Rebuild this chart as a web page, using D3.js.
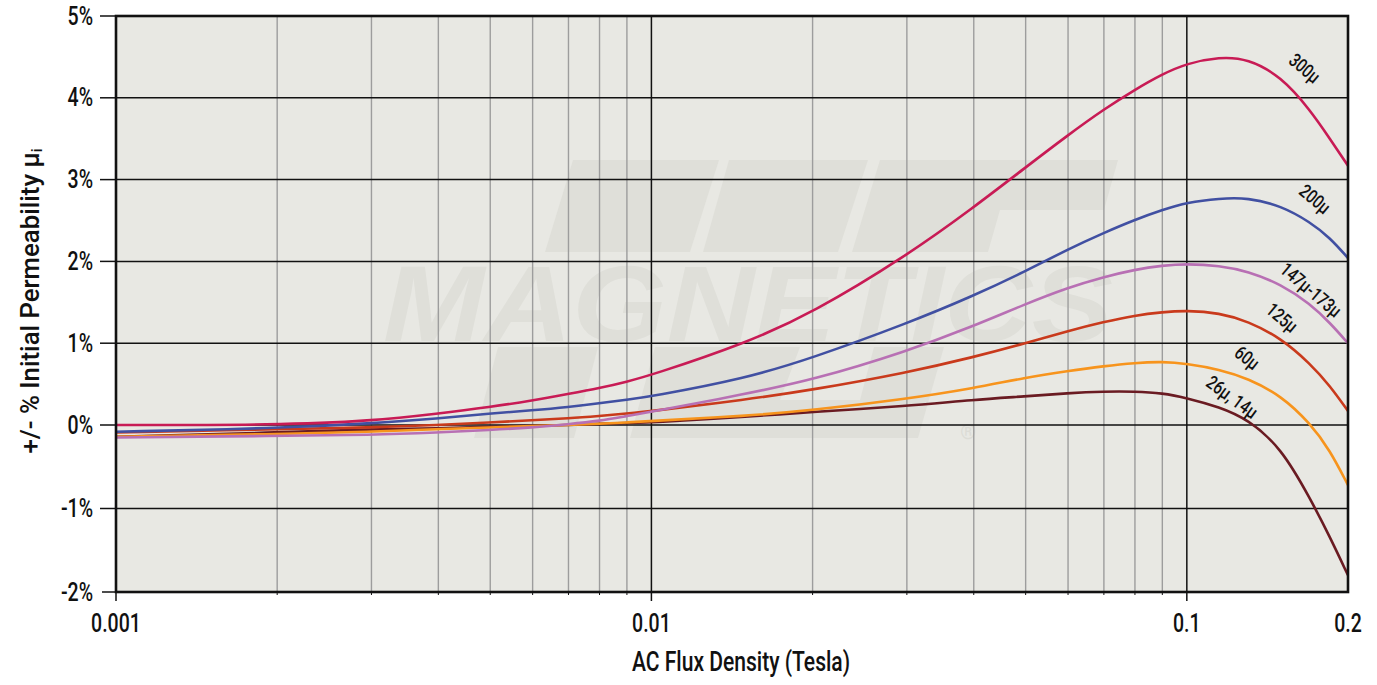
<!DOCTYPE html>
<html>
<head>
<meta charset="utf-8">
<script src="https://cdn.jsdelivr.net/npm/d3@7"></script>
<style>
  html, body { margin: 0; padding: 0; background: #ffffff; }
  svg { display: block; }
  text { font-family: Roboto, 'DejaVu Sans Condensed', sans-serif; font-weight: 500; fill: #111; }
</style>
</head>
<body>
<svg id="chart" width="1377" height="685"></svg>
<script>
// ---------------- DATA ----------------
const fluxDensity = [0.001, 0.002, 0.003, 0.004, 0.005, 0.006, 0.007, 0.008, 0.009, 0.01, 0.015, 0.02, 0.03, 0.04, 0.05, 0.06, 0.07, 0.08, 0.09, 0.1, 0.115, 0.13, 0.15, 0.17, 0.185, 0.2];

const perm300     = [0.00, 0.00, 0.05, 0.14, 0.22, 0.30, 0.38, 0.45, 0.53, 0.61, 1.00, 1.37, 2.07, 2.66, 3.15, 3.545, 3.86, 4.10, 4.29, 4.42, 4.50, 4.48, 4.26, 3.85, 3.50, 3.17];
const perm200     = [-0.08, -0.04, 0.02, 0.08, 0.14, 0.18, 0.22, 0.265, 0.31, 0.35, 0.57, 0.82, 1.24, 1.58, 1.88, 2.15, 2.35, 2.51, 2.63, 2.72, 2.77, 2.78, 2.68, 2.48, 2.29, 2.04];
const perm147_173 = [-0.15, -0.13, -0.12, -0.09, -0.06, -0.03, 0.01, 0.05, 0.11, 0.16, 0.38, 0.55, 0.90, 1.21, 1.48, 1.68, 1.81, 1.90, 1.95, 1.97, 1.95, 1.88, 1.72, 1.48, 1.25, 1.00];
const perm125     = [-0.09, -0.05, -0.03, 0.00, 0.03, 0.06, 0.08, 0.11, 0.14, 0.17, 0.31, 0.43, 0.64, 0.83, 1.00, 1.15, 1.26, 1.34, 1.38, 1.40, 1.37, 1.27, 1.06, 0.75, 0.48, 0.17];
const perm60      = [-0.14, -0.11, -0.08, -0.05, -0.03, -0.01, 0.00, 0.015, 0.03, 0.05, 0.11, 0.18, 0.32, 0.45, 0.58, 0.66, 0.72, 0.76, 0.775, 0.75, 0.68, 0.57, 0.36, 0.02, -0.30, -0.72];
const perm26_14   = [-0.14, -0.09, -0.05, -0.04, -0.02, -0.01, 0.00, 0.015, 0.025, 0.03, 0.10, 0.16, 0.23, 0.31, 0.35, 0.39, 0.41, 0.41, 0.39, 0.33, 0.22, 0.07, -0.27, -0.88, -1.34, -1.80];

const seriesNames = ["300μ", "200μ", "147μ-173μ", "125μ", "60μ", "26μ, 14μ"];
const seriesValues = [perm300, perm200, perm147_173, perm125, perm60, perm26_14];
const seriesColors = ["#c81b55", "#4150a2", "#b870b4", "#c93a1c", "#f7941d", "#6a1b22"];
// label anchor positions (data units) and rotation
const labelX = [0.166, 0.1735, 0.1705, 0.1506, 0.1296, 0.1215];
const labelY = [4.36, 2.76, 1.65, 1.31, 0.82, 0.34];
const labelAngle = [40, 40, 40, 40, 38, 36];

const xTickValues = [0.001, 0.01, 0.1, 0.2];
const xTickLabels = ["0.001", "0.01", "0.1", "0.2"];
const xMinor = [0.002,0.003,0.004,0.005,0.006,0.007,0.008,0.009,0.02,0.03,0.04,0.05,0.06,0.07,0.08,0.09];
const xMajor = [0.01, 0.1];
const yTickValues = [-2, -1, 0, 1, 2, 3, 4, 5];
const yTickLabels = ["-2%", "-1%", "0%", "1%", "2%", "3%", "4%", "5%"];

// ---------------- CHART ----------------
const svg = d3.select("#chart");
const L = 116, R = 1348, T = 16, B = 592;
const x = d3.scaleLog().domain([0.001, 0.2]).range([L, R]);
const y = d3.scaleLinear().domain([-2, 0, 5]).range([B, 425, T]);
const CONDENSE = 0.78;
function condense(sel, k) {
  sel.each(function () {
    const w = this.getComputedTextLength();
    d3.select(this).attr("textLength", w * (k || CONDENSE)).attr("lengthAdjust", "spacingAndGlyphs");
  });
}

// plot background
svg.append("rect").attr("x", L).attr("y", T).attr("width", R - L).attr("height", B - T).attr("fill", "#e8e8e3");

// watermark
const wm = svg.append("g").attr("fill", "#dfdfd9");
const wmPolys = [
  [[573,160],[719,160],[690,252],[545,252]],
  [[729,160],[868,160],[838,252],[703,252]],
  [[880,160],[1118,160],[1104,210],[1000,210],[988,252],[852,252]],
  [[498,347],[598,347],[574,438],[474,438]],
  [[655,347],[800,347],[780,400],[860,400],[874,347],[944,347],[918,438],[630,438]]
];
wmPolys.forEach(p => wm.append("path").attr("d", "M" + p.map(d => d.join(",")).join("L") + "Z"));
svg.append("text").attr("x", 748).attr("y", 341).attr("text-anchor", "middle")
  .attr("font-size", 108).attr("font-style", "italic")
  .attr("textLength", 730).attr("lengthAdjust", "spacingAndGlyphs")
  .style("fill", "#dfdfd9").style("font-family", "'Liberation Sans', Arial, sans-serif").style("font-weight", "bold")
  .text("MAGNETICS");
svg.append("text").attr("x", 968).attr("y", 432).attr("text-anchor", "middle").attr("dominant-baseline", "central")
  .attr("font-size", 20).style("fill", "#dcdcd6").text("®");

// minor vertical grid
svg.append("g").selectAll("line").data(xMinor).join("line")
  .attr("x1", d => x(d)).attr("x2", d => x(d)).attr("y1", T).attr("y2", B)
  .attr("stroke", "#9d9d9d").attr("stroke-width", 1.4);
// major vertical grid
svg.append("g").selectAll("line").data(xMajor).join("line")
  .attr("x1", d => x(d)).attr("x2", d => x(d)).attr("y1", T).attr("y2", B)
  .attr("stroke", "#111").attr("stroke-width", 1.5);
// horizontal grid
svg.append("g").selectAll("line").data(yTickValues).join("line")
  .attr("x1", L).attr("x2", R).attr("y1", d => y(d)).attr("y2", d => y(d))
  .attr("stroke", "#111").attr("stroke-width", 1.5);

// curves
svg.append("clipPath").attr("id", "clip").append("rect")
  .attr("x", L).attr("y", T).attr("width", R - L).attr("height", B - T);
const line = d3.line().x(d => x(d[0])).y(d => y(d[1])).curve(d3.curveBasis);
const curves = svg.append("g").attr("clip-path", "url(#clip)");
seriesValues.slice().reverse().forEach((vals, ri) => {
  const i = seriesValues.length - 1 - ri;
  curves.append("path").datum(fluxDensity.map((f, j) => [f, vals[j]]))
    .attr("d", line).attr("fill", "none").attr("stroke", seriesColors[i]).attr("stroke-width", 2.6)
    .attr("stroke-linejoin", "round");
});

// plot border
svg.append("rect").attr("x", L).attr("y", T).attr("width", R - L).attr("height", B - T)
  .attr("fill", "none").attr("stroke", "#111").attr("stroke-width", 2.6);

// y ticks & labels
svg.append("g").selectAll("line").data(yTickValues).join("line")
  .attr("x1", d => d === -2 ? 102 : 100).attr("x2", L).attr("y1", d => y(d)).attr("y2", d => y(d))
  .attr("stroke", "#111").attr("stroke-width", 1.5);
svg.append("g").selectAll("text").data(yTickValues).join("text")
  .attr("x", 93).attr("y", d => y(d)).attr("text-anchor", "end").attr("dominant-baseline", "central")
  .attr("font-size", 25).text((d, i) => yTickLabels[i]).call(condense);

// x ticks & labels
svg.append("g").selectAll("line").data(xTickValues.slice(0, 3)).join("line")
  .attr("x1", d => x(d)).attr("x2", d => x(d)).attr("y1", B).attr("y2", 601)
  .attr("stroke", "#111").attr("stroke-width", 1.5);
svg.append("g").selectAll("line").data(xMinor).join("line")
  .attr("x1", d => x(d)).attr("x2", d => x(d)).attr("y1", B).attr("y2", 595)
  .attr("stroke", "#111").attr("stroke-width", 1);
svg.append("g").selectAll("text").data(xTickValues).join("text")
  .attr("x", d => x(d)).attr("y", 623).attr("text-anchor", "middle").attr("dominant-baseline", "central")
  .attr("font-size", 25).text((d, i) => xTickLabels[i]).call(condense);

// axis titles
svg.append("text").attr("x", 741).attr("y", 662).attr("text-anchor", "middle").attr("dominant-baseline", "central")
  .attr("font-size", 27).text("AC Flux Density (Tesla)").call(condense);
const yt = svg.append("g").attr("transform", "translate(30,301) rotate(-90)");
const ytText = yt.append("text").attr("text-anchor", "middle").attr("dominant-baseline", "central").attr("font-size", 26)
  .attr("textLength", 305).attr("lengthAdjust", "spacingAndGlyphs");
ytText.append("tspan").text("+/- % Initial Permeability μ");
ytText.append("tspan").attr("font-size", 15).attr("dy", 7).text("i");

// series labels
svg.append("g").selectAll("text").data(seriesNames).join("text")
  .attr("transform", (d, i) => `translate(${x(labelX[i])},${y(labelY[i])}) rotate(${labelAngle[i]})`)
  .attr("text-anchor", "middle").attr("dominant-baseline", "central")
  .attr("font-size", 19).text(d => d).call(condense);
</script>
</body>
</html>
